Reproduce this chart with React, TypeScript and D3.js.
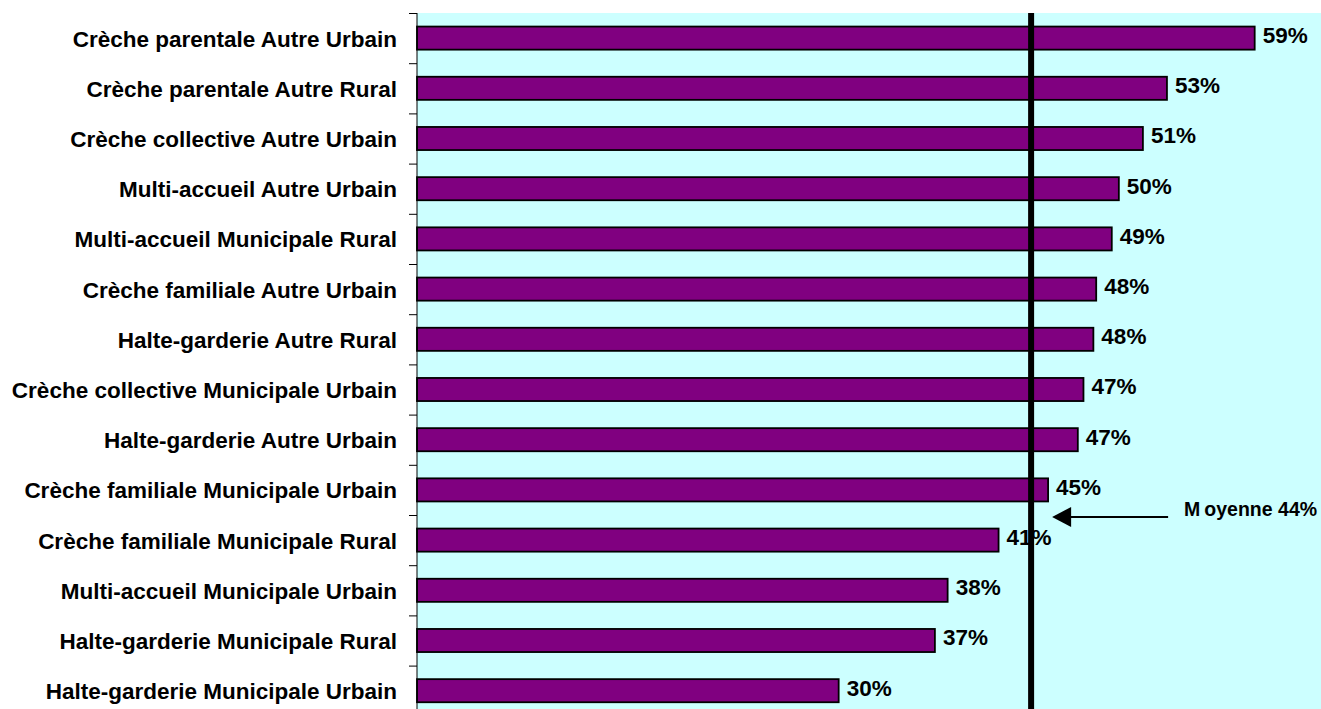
import * as d3 from 'd3';
import { useEffect, useRef } from 'react';

const categories = [
  'Crèche parentale Autre Urbain',
  'Crèche parentale Autre Rural',
  'Crèche collective Autre Urbain',
  'Multi-accueil Autre Urbain',
  'Multi-accueil Municipale Rural',
  'Crèche familiale Autre Urbain',
  'Halte-garderie Autre Rural',
  'Crèche collective Municipale Urbain',
  'Halte-garderie Autre Urbain',
  'Crèche familiale Municipale Urbain',
  'Crèche familiale Municipale Rural',
  'Multi-accueil Municipale Urbain',
  'Halte-garderie Municipale Rural',
  'Halte-garderie Municipale Urbain',
];

const values = [59.2, 53.0, 51.3, 49.6, 49.1, 48.0, 47.8, 47.1, 46.7, 44.6, 41.1, 37.5, 36.6, 29.8];

const meanValue = 43.4;
const meanLabel = ['M', 'oyenne 44%'];

const W = 1321;
const H = 709;

export default function App() {
  const ref = useRef<SVGSVGElement>(null);

  useEffect(() => {
    const svg = d3.select(ref.current);
    svg.selectAll('*').remove();

    const margin = { left: 417, top: 13 };
    const x = d3.scaleLinear().domain([0, 64]).range([margin.left, margin.left + 64 * 14.15]);
    const y = d3.scaleBand()
      .domain(categories)
      .range([margin.top, margin.top + 14 * 50.2])
      .paddingInner(0.54)
      .paddingOuter(0.27);

    // plot background
    svg.append('rect')
      .attr('x', margin.left)
      .attr('y', margin.top)
      .attr('width', W - margin.left)
      .attr('height', H - margin.top)
      .attr('fill', '#ccffff');

    // bars
    svg.selectAll('rect.bar')
      .data(values)
      .enter()
      .append('rect')
      .attr('class', 'bar')
      .attr('x', x(0))
      .attr('y', (d, i) => y(categories[i]) as number)
      .attr('width', (d) => x(d) - x(0))
      .attr('height', y.bandwidth())
      .attr('fill', '#800080')
      .attr('stroke', '#000')
      .attr('stroke-width', 1.8);

    // value labels
    svg.selectAll('text.val')
      .data(values)
      .enter()
      .append('text')
      .attr('class', 'val')
      .attr('x', (d) => x(d) + 8)
      .attr('y', (d, i) => (y(categories[i]) as number) + y.bandwidth() / 2)
      .attr('dy', '0.22em')
      .attr('font-family', '"Liberation Sans", Arial, sans-serif')
      .attr('font-weight', 'bold')
      .attr('font-size', 22.5)
      .attr('fill', '#000')
      .text((d) => `${Math.round(d)}%`);

    // category axis
    const step = y.step();
    const y0 = y.range()[0];
    svg.append('line')
      .attr('x1', margin.left).attr('x2', margin.left)
      .attr('y1', margin.top).attr('y2', H)
      .attr('stroke', '#000').attr('stroke-width', 1);
    d3.range(categories.length + 1).forEach((i) => {
      svg.append('line')
        .attr('x1', margin.left - 8).attr('x2', margin.left)
        .attr('y1', y0 + i * step + 0.5).attr('y2', y0 + i * step + 0.5)
        .attr('stroke', '#000').attr('stroke-width', 1);
    });
    svg.selectAll('text.cat')
      .data(categories)
      .enter()
      .append('text')
      .attr('class', 'cat')
      .attr('x', margin.left - 20)
      .attr('y', (d) => (y(d) as number) + y.bandwidth() / 2)
      .attr('dy', '0.38em')
      .attr('text-anchor', 'end')
      .attr('font-family', '"Liberation Sans", Arial, sans-serif')
      .attr('font-weight', 'bold')
      .attr('font-size', 22.5)
      .attr('fill', '#000')
      .text((d) => d);

    // mean line
    const mx = x(meanValue);
    svg.append('line')
      .attr('x1', mx).attr('x2', mx)
      .attr('y1', margin.top).attr('y2', H)
      .attr('stroke', '#000').attr('stroke-width', 6);

    // arrow + annotation
    const ay = 517;
    svg.append('line')
      .attr('x1', mx + 137).attr('x2', mx + 36)
      .attr('y1', ay).attr('y2', ay)
      .attr('stroke', '#000').attr('stroke-width', 2);
    svg.append('path')
      .attr('d', `M${mx + 21},${ay} L${mx + 40},${ay - 10} L${mx + 40},${ay + 10} Z`)
      .attr('fill', '#000');
    const t = svg.append('text')
      .attr('x', mx + 153)
      .attr('y', ay - 1)
      .attr('font-family', '"Liberation Sans", Arial, sans-serif')
      .attr('font-weight', 'bold')
      .attr('font-size', 19.5)
      .attr('fill', '#000');
    t.append('tspan').text(meanLabel[0]);
    t.append('tspan').attr('dx', 4).text(meanLabel[1]);
  }, []);

  return (
    <svg
      ref={ref}
      width={W}
      height={H}
      style={{ position: 'absolute', left: 0, top: 0, background: '#fff' }}
    />
  );
}
